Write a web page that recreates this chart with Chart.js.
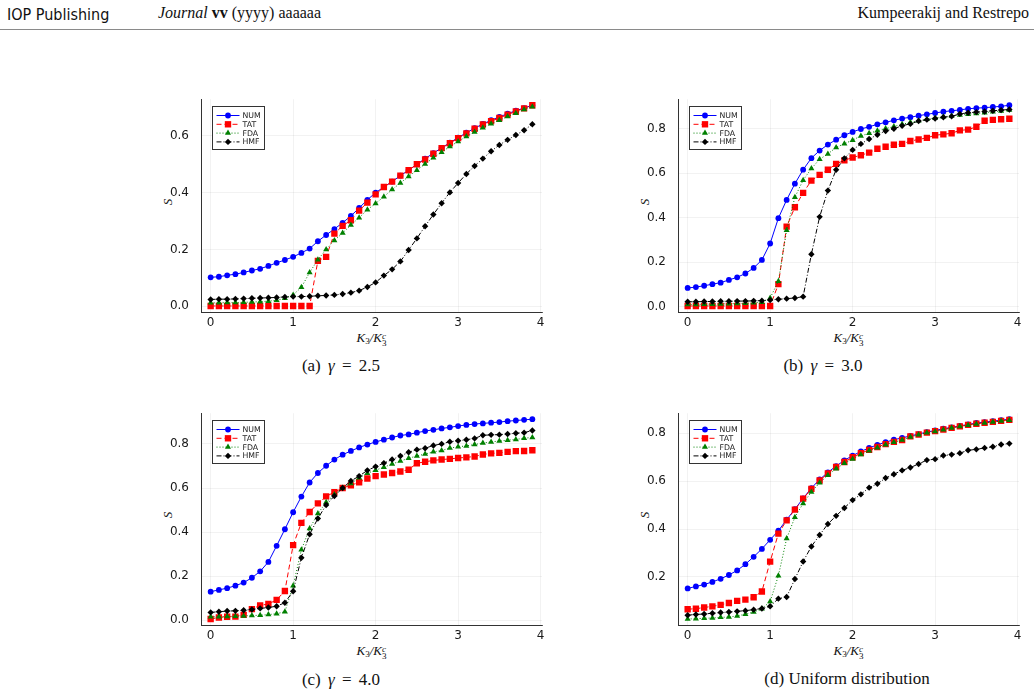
<!DOCTYPE html>
<html><head><meta charset="utf-8">
<script src="https://cdn.jsdelivr.net/npm/chart.js@4.4.1/dist/chart.umd.min.js"></script>
<style>
html,body{margin:0;padding:0;background:#fff;}
body{width:1034px;height:696px;position:relative;overflow:hidden;font-family:"Liberation Serif","DejaVu Serif",serif;color:#111;}
canvas{position:absolute;}
.t{position:absolute;white-space:nowrap;}
.c{transform:translate(-50%,-50%);}
.hdr{top:4px;font-size:16px;}
.rule{position:absolute;left:0;width:1034px;top:29px;height:1px;background:#8a8a8a;}
.xl{font-size:13px;font-style:italic;}
.xl sub{font-size:0.7em;font-style:normal;vertical-align:-0.3em;line-height:0;}
.st{display:inline-block;vertical-align:-0.45em;line-height:0.75;font-size:0.7em;}
.st span{display:block;}
.yl{font-size:13px;font-style:italic;transform:translate(-50%,-50%) rotate(-90deg);}
.cap{font-size:17px;}
.capg{word-spacing:3px;}
</style></head><body>
<div class="t hdr" style="left:7px;font-family:'Liberation Sans Narrow','DejaVu Sans Condensed','Liberation Sans',sans-serif;font-size:16px;top:5px;">IOP Publishing</div>
<div class="t hdr" style="left:158px;"><i>Journal</i> <b>vv</b> (yyyy) aaaaaa</div>
<div class="t hdr" style="right:5px;">Kumpeerakij and Restrepo</div>
<div class="rule"></div>
<div id="overlay"></div>
<script>
// ---------------- data ----------------
const xValues = [0,0.1,0.2,0.3,0.4,0.5,0.6,0.7,0.8,0.9,1.0,1.1,1.2,1.3,1.4,1.5,1.6,1.7,1.8,1.9,2.0,2.1,2.2,2.3,2.4,2.5,2.6,2.7,2.8,2.9,3.0,3.1,3.2,3.3,3.4,3.5,3.6,3.7,3.8,3.9];
const seriesNames = ['NUM','TAT','FDA','HMF'];
const xTickValues = [0,1,2,3,4];
const yTicksA = [0,0.2,0.4,0.6];
const yTicksB = [0,0.2,0.4,0.6,0.8];
const yTicksC = [0,0.2,0.4,0.6,0.8];
const yTicksD = [0.2,0.4,0.6,0.8];
const captions = ['(a) \u03B3 = 2.5','(b) \u03B3 = 3.0','(c) \u03B3 = 4.0','(d) Uniform distribution'];

// (a) gamma = 2.5
const numA = [0.102,0.104,0.109,0.113,0.119,0.126,0.132,0.142,0.153,0.163,0.174,0.188,0.203,0.229,0.251,0.272,0.294,0.318,0.346,0.375,0.400,0.420,0.439,0.460,0.479,0.500,0.520,0.539,0.558,0.576,0.594,0.611,0.627,0.642,0.655,0.667,0.678,0.689,0.698,0.708];
const tatA = [0.001,0.001,0.001,0.001,0.001,0.001,0.001,0.001,0.001,0.001,0.001,0.001,0.001,0.160,0.174,0.256,0.283,0.303,0.337,0.365,0.394,0.420,0.439,0.460,0.479,0.500,0.517,0.537,0.557,0.574,0.592,0.609,0.625,0.640,0.652,0.663,0.675,0.686,0.697,0.708];
const fdaA = [0.012,0.012,0.013,0.013,0.014,0.015,0.016,0.018,0.021,0.028,0.040,0.067,0.119,0.164,0.200,0.232,0.258,0.286,0.312,0.340,0.362,0.386,0.411,0.434,0.457,0.479,0.501,0.523,0.542,0.563,0.580,0.598,0.614,0.629,0.643,0.655,0.668,0.680,0.693,0.703];
const hmfA = [0.024,0.025,0.025,0.026,0.027,0.028,0.029,0.030,0.031,0.033,0.034,0.034,0.035,0.037,0.038,0.040,0.043,0.048,0.055,0.068,0.084,0.108,0.130,0.158,0.198,0.239,0.282,0.323,0.363,0.401,0.434,0.466,0.494,0.520,0.546,0.568,0.586,0.603,0.620,0.641];
// (b) gamma = 3.0
const numB = [0.084,0.088,0.094,0.101,0.108,0.120,0.132,0.149,0.174,0.210,0.284,0.398,0.480,0.553,0.616,0.668,0.702,0.729,0.751,0.771,0.786,0.799,0.809,0.820,0.829,0.838,0.846,0.852,0.859,0.865,0.871,0.877,0.881,0.885,0.890,0.893,0.895,0.898,0.901,0.906];
const tatB = [0.003,0.003,0.003,0.003,0.003,0.003,0.003,0.003,0.003,0.003,0.003,0.101,0.360,0.447,0.512,0.567,0.593,0.616,0.642,0.658,0.671,0.681,0.693,0.710,0.719,0.728,0.732,0.745,0.752,0.759,0.771,0.775,0.780,0.793,0.796,0.809,0.836,0.840,0.843,0.845];
const fdaB = [0.010,0.010,0.011,0.011,0.012,0.013,0.014,0.015,0.017,0.020,0.039,0.114,0.344,0.492,0.569,0.621,0.663,0.687,0.716,0.733,0.749,0.768,0.780,0.791,0.801,0.810,0.820,0.829,0.836,0.843,0.849,0.854,0.858,0.862,0.865,0.869,0.872,0.877,0.880,0.884];
const hmfB = [0.022,0.022,0.023,0.023,0.024,0.024,0.025,0.025,0.026,0.027,0.030,0.033,0.036,0.039,0.045,0.236,0.404,0.522,0.616,0.667,0.705,0.732,0.754,0.773,0.790,0.800,0.814,0.822,0.835,0.841,0.846,0.852,0.856,0.867,0.872,0.875,0.878,0.881,0.884,0.887];
// (c) gamma = 4.0
const numC = [0.130,0.138,0.146,0.157,0.171,0.193,0.222,0.265,0.338,0.413,0.490,0.561,0.625,0.668,0.701,0.729,0.751,0.768,0.784,0.797,0.809,0.819,0.829,0.838,0.843,0.851,0.858,0.864,0.870,0.875,0.881,0.886,0.890,0.893,0.896,0.899,0.903,0.906,0.909,0.912];
const tatC = [0.006,0.013,0.016,0.017,0.025,0.051,0.068,0.074,0.093,0.133,0.341,0.442,0.491,0.530,0.562,0.581,0.600,0.612,0.626,0.643,0.654,0.661,0.668,0.675,0.683,0.712,0.719,0.725,0.729,0.732,0.736,0.739,0.743,0.752,0.757,0.759,0.764,0.767,0.768,0.771];
const fdaC = [0.016,0.016,0.017,0.019,0.020,0.022,0.023,0.026,0.030,0.039,0.157,0.320,0.416,0.484,0.535,0.570,0.600,0.620,0.646,0.667,0.681,0.694,0.709,0.722,0.735,0.745,0.754,0.764,0.770,0.781,0.787,0.791,0.797,0.804,0.809,0.813,0.817,0.820,0.826,0.829];
const hmfC = [0.036,0.039,0.042,0.043,0.046,0.049,0.054,0.058,0.064,0.080,0.132,0.284,0.390,0.462,0.523,0.564,0.600,0.632,0.654,0.680,0.697,0.713,0.729,0.745,0.762,0.774,0.780,0.793,0.800,0.810,0.814,0.819,0.825,0.839,0.841,0.842,0.845,0.848,0.851,0.861];
// (d) uniform distribution
const numD = [0.152,0.160,0.168,0.179,0.192,0.208,0.227,0.253,0.284,0.317,0.355,0.393,0.439,0.483,0.528,0.571,0.607,0.637,0.663,0.687,0.707,0.724,0.739,0.752,0.763,0.773,0.781,0.789,0.797,0.805,0.812,0.819,0.825,0.831,0.837,0.843,0.847,0.851,0.855,0.859];
const tatD = [0.065,0.067,0.072,0.077,0.083,0.091,0.100,0.105,0.115,0.139,0.264,0.381,0.436,0.481,0.527,0.568,0.603,0.632,0.659,0.680,0.700,0.717,0.731,0.743,0.755,0.764,0.772,0.787,0.795,0.803,0.809,0.816,0.823,0.829,0.835,0.840,0.844,0.848,0.852,0.856];
const fdaD = [0.024,0.025,0.027,0.028,0.031,0.032,0.037,0.044,0.053,0.067,0.097,0.205,0.360,0.449,0.507,0.555,0.593,0.625,0.652,0.675,0.693,0.711,0.727,0.740,0.752,0.763,0.772,0.785,0.794,0.802,0.808,0.815,0.822,0.828,0.834,0.839,0.843,0.847,0.851,0.855];
const hmfD = [0.040,0.043,0.045,0.048,0.051,0.053,0.056,0.059,0.063,0.068,0.077,0.109,0.116,0.191,0.264,0.327,0.375,0.421,0.455,0.488,0.521,0.545,0.573,0.589,0.613,0.629,0.645,0.657,0.672,0.688,0.692,0.707,0.711,0.717,0.729,0.733,0.739,0.744,0.753,0.757];

// ---------------- styles ----------------
const seriesStyle = [
  {color:'#0000ff', dash:[], point:'circle', r:2.9, order:4},
  {color:'#ff0000', dash:[5,3], point:'rect', r:4.5, order:3},
  {color:'#008000', dash:[1,2], point:'triangle', r:3.5, order:2},
  {color:'#000000', dash:[5,2,1,2], point:'rectRot', r:3.2, order:1}
];

const panels = [
  {series:[numA,tatA,fdaA,hmfA], yTicks:yTicksA, l:201, r:542, t:91,  b:312, cap:captions[0], capX:341, capY:366, g:true},
  {series:[numB,tatB,fdaB,hmfB], yTicks:yTicksB, l:678, r:1019, t:91, b:312, cap:captions[1], capX:823, capY:366, g:true},
  {series:[numC,tatC,fdaC,hmfC], yTicks:yTicksC, l:201, r:542, t:405, b:625, cap:captions[2], capX:341, capY:680, g:true},
  {series:[numD,tatD,fdaD,hmfD], yTicks:yTicksD, l:678, r:1019, t:405, b:625, cap:captions[3], capX:847, capY:679, g:false}
];

function drawMarker(ctx, style, r, x, y){
  ctx.beginPath();
  if(style==='circle'){ ctx.arc(x,y,r,0,Math.PI*2); }
  else if(style==='rect'){ const s=r*Math.SQRT1_2; ctx.rect(x-s,y-s,2*s,2*s); }
  else if(style==='triangle'){ ctx.moveTo(x,y-r); ctx.lineTo(x+r*0.866,y+r*0.5); ctx.lineTo(x-r*0.866,y+r*0.5); ctx.closePath(); }
  else { ctx.moveTo(x,y-r); ctx.lineTo(x+r,y); ctx.lineTo(x,y+r); ctx.lineTo(x-r,y); ctx.closePath(); }
  ctx.fill();
}

const boxLegend = {
  id:'boxLegend',
  afterDraw(chart){
    const ctx=chart.ctx, a=chart.chartArea;
    const x0=Math.round(a.left+11)+0.5, y0=Math.round(a.top+7)+0.5, w=52, h=43;
    ctx.save();
    ctx.fillStyle='#fff'; ctx.fillRect(x0,y0,w,h);
    ctx.strokeStyle='#333'; ctx.lineWidth=1; ctx.setLineDash([]); ctx.strokeRect(x0,y0,w,h);
    chart.data.datasets.forEach((ds,i)=>{
      const st=seriesStyle[i];
      const y=y0+9+i*8.8;
      ctx.strokeStyle=st.color; ctx.lineWidth=1; ctx.setLineDash(st.dash);
      ctx.beginPath(); ctx.moveTo(x0+4,y); ctx.lineTo(x0+27,y); ctx.stroke();
      ctx.setLineDash([]);
      ctx.fillStyle=st.color; drawMarker(ctx, st.point, st.r, x0+15.5, y);
      ctx.fillStyle='#222'; ctx.font='7.8px "DejaVu Sans", sans-serif'; ctx.textBaseline='middle'; ctx.textAlign='left';
      ctx.fillText(ds.label, x0+30, y+0.5);
    });
    ctx.restore();
  }
};

const overlay=document.getElementById('overlay');
panels.forEach((p,pi)=>{
  const YW=80, XH=40, PT=11, PR=10;
  const cw=(p.r-p.l)+YW+PR, ch=(p.b-p.t)+PT+XH;
  const cv=document.createElement('canvas');
  cv.width=cw; cv.height=ch;
  cv.style.left=(p.l-YW)+'px'; cv.style.top=(p.t-PT)+'px';
  cv.style.width=cw+'px'; cv.style.height=ch+'px';
  document.body.appendChild(cv);

  let mn=Infinity, mx=-Infinity;
  p.series.forEach(s=>s.forEach(v=>{mn=Math.min(mn,v);mx=Math.max(mx,v);}));
  const pad=0.03*(mx-mn);
  const xmn=xValues[0], xmx=xValues[xValues.length-1], xpad=0.03*(xmx-xmn);

  new Chart(cv,{
    type:'line',
    data:{datasets:p.series.map((s,i)=>({
      label:seriesNames[i],
      data:s.map((v,k)=>({x:xValues[k],y:v})),
      borderColor:seriesStyle[i].color,
      backgroundColor:seriesStyle[i].color,
      borderWidth:1,
      borderDash:seriesStyle[i].dash,
      pointStyle:seriesStyle[i].point,
      pointRadius:seriesStyle[i].r,
      pointBorderWidth:0,
      pointBackgroundColor:seriesStyle[i].color,
      tension:0,
      order:seriesStyle[i].order,
      fill:false
    }))},
    options:{
      responsive:false, animation:false, devicePixelRatio:1,
      layout:{padding:{left:0,top:PT,right:PR,bottom:0}},
      plugins:{legend:{display:false},tooltip:{enabled:false}},
      scales:{
        x:{type:'linear',min:xmn-xpad,max:xmx+xpad,
          afterBuildTicks:(sc)=>{sc.ticks=xTickValues.map(v=>({value:v}));},
          afterFit:(sc)=>{sc.height=XH;},
          grid:{color:'rgba(0,0,0,0.09)',lineWidth:0.6,drawTicks:false},
          border:{display:true,color:'#333',width:1},
          ticks:{padding:4,color:'#1a1a1a',font:{family:'"DejaVu Sans", sans-serif',size:12},callback:(v)=>String(v),maxRotation:0}
        },
        y:{type:'linear',min:mn-pad,max:mx+pad,
          afterBuildTicks:(sc)=>{sc.ticks=p.yTicks.map(v=>({value:v}));},
          afterFit:(sc)=>{sc.width=YW;},
          grid:{color:'rgba(0,0,0,0.09)',lineWidth:0.6,drawTicks:false},
          border:{display:true,color:'#333',width:1},
          ticks:{padding:12,color:'#1a1a1a',font:{family:'"DejaVu Sans", sans-serif',size:12},callback:(v)=>Number(v).toFixed(1)}
        }
      }
    },
    plugins:[boxLegend]
  });

  const cx=(p.l+p.r)/2, cy=(p.t+p.b)/2;
  const yl=document.createElement('div'); yl.className='t yl'; yl.style.left=(p.l-33.5)+'px'; yl.style.top=cy+'px'; yl.textContent='S';
  overlay.appendChild(yl);
  const xl=document.createElement('div'); xl.className='t c xl'; xl.style.left=cx+'px'; xl.style.top=(p.b+26)+'px';
  xl.innerHTML='K<sub>3</sub>/K<span class="st"><span>c</span><span style="font-style:normal">3</span></span>';
  overlay.appendChild(xl);
  const cp=document.createElement('div'); cp.className='t c cap'+(p.g?' capg':''); cp.style.left=p.capX+'px'; cp.style.top=p.capY+'px';
  cp.innerHTML=p.cap.replace('\u03B3','<i>\u03B3</i>');
  overlay.appendChild(cp);
});
</script>
</body></html>
